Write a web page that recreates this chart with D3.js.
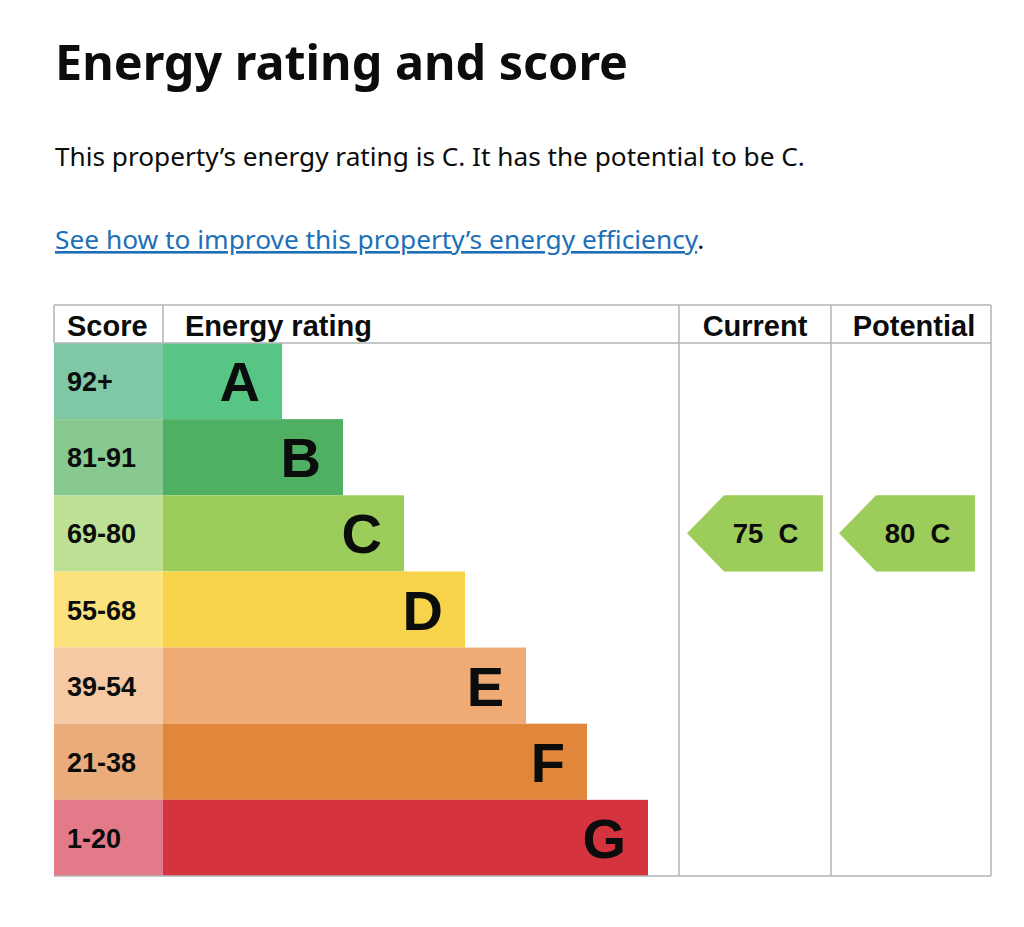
<!DOCTYPE html>
<html><head><meta charset="utf-8">
<script src="https://cdn.jsdelivr.net/npm/d3@7"></script>
<style>
html,body{margin:0;padding:0;background:#fff;}
svg{display:block;}
</style></head>
<body>
<svg id="chart" width="1024" height="927"></svg>
<script>
const ratings = ["A","B","C","D","E","F","G"];
const scoreRanges = ["92+","81-91","69-80","55-68","39-54","21-38","1-20"];
const barColors = ["#57c685","#4fb063","#9ccd5b","#f6d34a","#efab73","#e2863b","#d5343f"];
const scoreColors = ["#80c7a5","#88c98f","#bde095","#fbe27c","#f5c9a3","#ebac7c","#e27a89"];
const currentScore = 75, currentRating = "C";
const potentialScore = 80, potentialRating = "C";
const headers = ["Score","Energy rating","Current","Potential"];

const svg = d3.select("#chart");
const grid = "#b1b4b6";

// Texts
svg.append("text").attr("x",55).attr("y",80)
  .style("font-family","'Noto Sans'").style("font-weight","700").style("font-size","48.5px")
  .attr("fill","#0b0c0c").text("Energy rating and score");
svg.append("text").attr("x",55).attr("y",166)
  .style("font-family","'Noto Sans'").style("font-size","26.2px")
  .attr("fill","#0b0c0c").text("This property\u2019s energy rating is C. It has the potential to be C.");
const link = svg.append("text").attr("x",55).attr("y",249)
  .style("font-family","'Noto Sans'").style("font-size","26.3px");
link.append("tspan").style("text-decoration","underline").attr("fill","#1d70b8")
  .text("See how to improve this property\u2019s energy efficiency");
link.append("tspan").attr("fill","#0b0c0c").text(".");

// Table geometry
const tableLeft = 54, tableRight = 991, tableTop = 305, headBottom = 343, tableBottom = 876;
const colScore = 163, colCurrent = 679, colPotential = 831;

const y = d3.scaleBand().domain(ratings).range([headBottom, tableBottom]).paddingInner(0);
const x = d3.scaleLinear().domain([0, 7]).range([colScore + 58, 648]);
const scoreY = d3.scaleThreshold().domain([21,39,55,69,81,92]).range(["G","F","E","D","C","B","A"]);

const rows = ratings.map((r,i)=>({rating:r, range:scoreRanges[i], bar:barColors[i], cell:scoreColors[i], i}));

const g = svg.append("g");
g.selectAll("rect.score").data(rows).join("rect").attr("class","score")
  .attr("x",tableLeft).attr("y",d=>y(d.rating)).attr("width",colScore-tableLeft).attr("height",y.bandwidth())
  .attr("fill",d=>d.cell);
g.selectAll("rect.bar").data(rows).join("rect").attr("class","bar")
  .attr("x",colScore).attr("y",d=>y(d.rating)).attr("width",d=>x(d.i+1)-colScore).attr("height",y.bandwidth())
  .attr("fill",d=>d.bar);
g.selectAll("text.range").data(rows).join("text").attr("class","range")
  .attr("x",67).attr("y",d=>y(d.rating)+y.bandwidth()/2+10)
  .style("font-family","'Liberation Sans', Arial").style("font-weight","700").style("font-size","27px")
  .attr("fill","#0b0c0c").text(d=>d.range);
g.selectAll("text.letter").data(rows).join("text").attr("class","letter")
  .attr("x",d=>x(d.i+1)-22).attr("y",d=>y(d.rating)+y.bandwidth()/2+20)
  .attr("text-anchor","end")
  .style("font-family","'Liberation Sans', Arial").style("font-weight","700").style("font-size","56px")
  .attr("fill","#0b0c0c").text(d=>d.rating);

// Grid lines
const lines = [
  [tableLeft,tableTop,tableRight,tableTop],
  [tableLeft,headBottom,tableRight,headBottom],
  [tableLeft,tableBottom,tableRight,tableBottom],
  [colScore,tableTop,colScore,headBottom],
  [colCurrent,tableTop,colCurrent,tableBottom],
  [colPotential,tableTop,colPotential,tableBottom],
  [tableRight,tableTop,tableRight,tableBottom],
  [tableLeft,tableTop,tableLeft,headBottom]
];
svg.append("g").selectAll("line").data(lines).join("line")
  .attr("x1",d=>d[0]).attr("y1",d=>d[1]).attr("x2",d=>d[2]).attr("y2",d=>d[3])
  .attr("stroke",grid).attr("stroke-width",1.5);

// Headers
const headerPos = [
  {t:headers[0], x:67, anchor:"start"},
  {t:headers[1], x:185, anchor:"start"},
  {t:headers[2], x:(colCurrent+colPotential)/2, anchor:"middle"},
  {t:headers[3], x:(colPotential+tableRight)/2+3, anchor:"middle"}
];
svg.append("g").selectAll("text").data(headerPos).join("text")
  .attr("x",d=>d.x).attr("y",336).attr("text-anchor",d=>d.anchor)
  .style("font-family","'Liberation Sans', Arial").style("font-weight","700").style("font-size","29px")
  .attr("fill","#0b0c0c").text(d=>d.t);

// Arrows
const arrows = [
  {score:currentScore, rating:currentRating, left:colCurrent+8, right:colPotential-8},
  {score:potentialScore, rating:potentialRating, left:colPotential+8, right:tableRight-16}
];
const ag = svg.append("g");
arrows.forEach(a=>{
  const band = scoreY(a.score);
  const top = y(band), h = y.bandwidth(), mid = top + h/2;
  const color = barColors[ratings.indexOf(band)];
  const notch = 37;
  ag.append("path")
    .attr("d", `M${a.left},${mid} L${a.left+notch},${top} L${a.right},${top} L${a.right},${top+h} L${a.left+notch},${top+h} Z`)
    .attr("fill", color);
  ag.append("text").attr("x",(a.left+notch+a.right)/2-8).attr("y",mid+10)
    .attr("text-anchor","middle")
    .style("font-family","'Liberation Sans', Arial").style("font-weight","700").style("font-size","27.5px")
    .attr("fill","#0b0c0c").text(`${a.score}\u00a0\u00a0${a.rating}`);
});
</script>
</body></html>
